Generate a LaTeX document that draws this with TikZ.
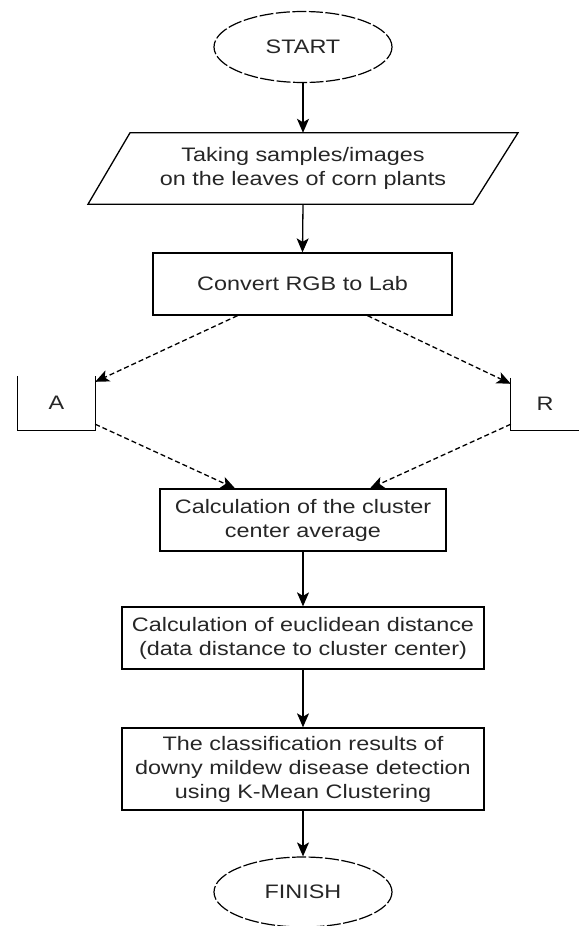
\documentclass[tikz,border=0pt]{standalone}
\usepackage{fontspec}
\setmainfont{Liberation Sans}[FakeStretch=1.2]
\usetikzlibrary{shapes.geometric,arrows.meta,calc}
\begin{document}
\begin{tikzpicture}[x=1pt,y=-1pt,
  every node/.style={font=\fontsize{19.5}{24}\selectfont, align=center, text=black!85},
  term/.style={ellipse, draw, dash pattern=on 14pt off 2.5pt, line width=1.2pt, minimum width=178pt, minimum height=71pt, inner sep=0pt},
  procbox/.style={rectangle, draw, line width=1.3pt, inner sep=0pt},
  plain/.style={inner sep=0pt},
  edge/.style={line width=1.3pt},
  flow/.style={line width=1.3pt, -{Stealth[length=14pt,width=12pt,inset=3.5pt]}},
  dflow/.style={flow, dash pattern=on 5pt off 3pt},
]
\useasboundingbox (0,0) rectangle (579,926);

\node[term] (start) at (303,47) {START};

\node[plain, minimum width=300pt, minimum height=71pt] (para) at (303,168.5) {Taking samples/images\\on the leaves of corn plants};
\draw[edge] ($(para.north)+(-173,0)$) -- ($(para.north)+(215,0)$) -- ($(para.south)+(170,0)$) -- ($(para.south)+(-215,0)$) -- cycle;

\node[procbox, minimum width=299pt, minimum height=62pt] (convert) at (302.5,284) {Convert RGB to Lab};

\node[plain, minimum width=77pt, minimum height=54pt] (boxA) at (56.5,403) {A};
\draw[edge] (boxA.north west) -- (boxA.south west) -- (boxA.south east) -- (boxA.north east);

\node[plain, minimum width=68pt, minimum height=52pt] (boxR) at (545,404) {R};
\draw[edge] (boxR.north west) -- (boxR.south west) -- (boxR.south east);

\node[procbox, minimum width=286pt, minimum height=62pt] (calc) at (303,520) {Calculation of the cluster\\center average};
\node[procbox, minimum width=362pt, minimum height=62pt] (eucl) at (303,638) {Calculation of euclidean distance\\(data distance to cluster center)};
\node[procbox, minimum width=362pt, minimum height=82pt] (cls) at (303,769) {The classification results of\\downy mildew disease detection\\using K-Mean Clustering};
\node[term, minimum height=70pt] (finish) at (303,892) {FINISH};

\draw[flow] (start.south) -- (para.north);
\draw[flow] (para.south) -- (convert.north);
\draw[dflow] ($(convert.south)+(-65,0)$) -- ($(boxA.north east)+(0,6)$);
\draw[dflow] ($(convert.south)+(65,0)$) -- ($(boxR.north west)+(0,6)$);
\draw[dflow] ($(boxA.south east)+(0,-6)$) -- ($(calc.north)+(-68,0)$);
\draw[dflow] ($(boxR.south west)+(0,-6)$) -- ($(calc.north)+(67,0)$);
\draw[flow] (calc.south) -- (eucl.north);
\draw[flow] (eucl.south) -- (cls.north);
\draw[flow] (cls.south) -- (finish.north);
\end{tikzpicture}
\end{document}
